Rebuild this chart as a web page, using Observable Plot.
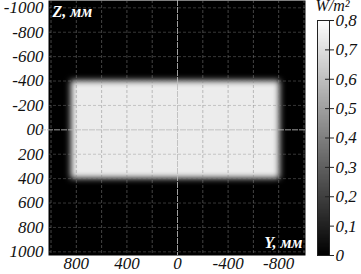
<!DOCTYPE html>
<html><head><meta charset="utf-8">
<script src="https://cdn.jsdelivr.net/npm/d3@7"></script>
<script src="https://cdn.jsdelivr.net/npm/@observablehq/plot@0.6"></script>
<style>
body{margin:0;background:white;}
#wrap{position:relative;width:361px;height:274px;overflow:hidden;}
#wrap svg{position:absolute;top:0;}
</style></head><body><div id="wrap"></div>
<script>
// axis ticks (mm)
const yTicks = [800, 400, 0, -400, -800];
const zTicks = [-1000, -800, -600, -400, -200, 0, 200, 400, 600, 800, 1000];
// dashed grid lines (mm)
const gridY = [-1000, -800, -600, -400, -200, 200, 400, 600, 800, 1000];
const gridZ = [-1000, -800, -600, -400, -200, 200, 400, 600, 800, 1000];
const zeroLines = [0];
// illuminated spot: extent in Y and Z (mm) and irradiance (W/m²)
const spotY1 = [-810];
const spotY2 = [840];
const spotZ1 = [-400];
const spotZ2 = [400];
const spotValue = [0.74];
// colour bar ticks
const barTicks = [0, 0.1, 0.2, 0.3, 0.4, 0.5, 0.6, 0.7, 0.8];

const spot = spotValue.map((v, i) => ({y1: spotY1[i], y2: spotY2[i], z1: spotZ1[i], z2: spotZ2[i], v}));
const font = {fontFamily: "'Liberation Serif', 'Times New Roman', serif", fontStyle: "italic", fontSize: "17px", background: "transparent", color: "#111"};
const color = {type: "linear", domain: [0, 0.8], range: ["black", "white"]};

const main = Plot.plot({
  width: 361, height: 274,
  marginLeft: 48, marginRight: 56, marginTop: 0, marginBottom: 19,
  style: font,
  x: {domain: [1020, -1012], ticks: yTicks, tickSize: 0, tickPadding: 1, label: null, tickFormat: d => String(d)},
  y: {domain: [1030, -1060], ticks: zTicks, tickSize: 0, tickPadding: 5, label: null, tickFormat: d => d === 0 ? "00" : String(d)},
  color,
  marks: [
    Plot.frame({fill: "black"}),
    Plot.rect(spot, {x1: "y1", x2: "y2", y1: "z1", y2: "z2", fill: "v"}),
    Plot.ruleX(gridY, {stroke: "#888", strokeOpacity: 0.5, strokeDasharray: "3,2"}),
    Plot.ruleY(gridZ, {stroke: "#888", strokeOpacity: 0.4, strokeDasharray: "3,2"}),
    Plot.ruleX(zeroLines, {stroke: "#bbb", strokeOpacity: 0.85, strokeDasharray: "6,1"}),
    Plot.ruleY(zeroLines, {stroke: "#bbb", strokeOpacity: 0.85, strokeDasharray: "6,1", insetLeft: -8}),
    Plot.text(["Z, мм"], {frameAnchor: "top-left", lineAnchor: "top", textAnchor: "start", dx: 4, dy: 5, fill: "white", fontWeight: "bold", fontSize: 16}),
    Plot.text(["Y, мм"], {frameAnchor: "bottom-right", lineAnchor: "bottom", textAnchor: "end", dx: -3, dy: -8, fill: "white", fontWeight: "bold", fontSize: 16})
  ]
});
const rectG = main.querySelector('g[aria-label="rect"]');
if (rectG) rectG.style.filter = "blur(3px)";

const bar = Plot.plot({
  width: 61, height: 274,
  marginLeft: 17, marginRight: 32, marginTop: 20, marginBottom: 19,
  style: font,
  x: {domain: [0, 1], axis: null},
  y: {domain: [0, 0.8], axis: null},
  color,
  marks: [
    Plot.raster({x1: 0, x2: 1, y1: 0, y2: 0.8, width: 2, height: 200, fill: (x, y) => y}),
    Plot.frame({stroke: "#222"}),
    Plot.tickY(barTicks, {y: d => d, stroke: "#222", insetLeft: 8, insetRight: -5}),
    Plot.axisY(barTicks, {anchor: "right", tickSize: 0, tickPadding: 6, label: null, tickFormat: d => d === 0 ? "0" : d.toFixed(1).replace(".", ",")}),
    Plot.text(["W/m²"], {frameAnchor: "top-left", lineAnchor: "top", textAnchor: "start", dx: -2, dy: -21, fill: "#111", fontSize: 16})
  ]
});
bar.style.left = "300px";
const wrap = document.getElementById("wrap");
main.style.left = "0px";
wrap.appendChild(main);
wrap.appendChild(bar);
</script>
</body></html>
